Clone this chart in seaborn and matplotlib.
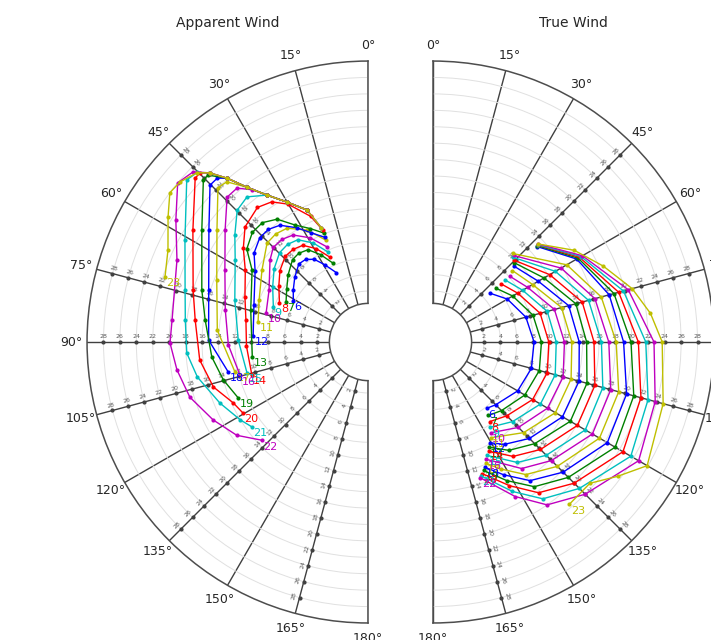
import numpy as np
import pandas as pd
import matplotlib
matplotlib.use("Agg")
import matplotlib.pyplot as plt
import seaborn as sns

# True wind polar: (true wind angle in degrees, boat speed) for each wind speed
tw06 = ([49.6, 60, 75, 90, 105, 120, 135, 140.8], [4.95, 6.25, 7.5, 8.1, 8.2, 7.7, 6.6, 6.2])
tw07 = ([49.7, 60, 75, 90, 105, 120, 135, 143.0], [5.9, 7.0, 8.4, 9.0, 9.2, 8.7, 7.6, 7.0])
tw08 = ([49.5, 60, 75, 90, 105, 120, 135, 144.5], [6.7, 7.7, 9.3, 9.9, 10.2, 9.8, 8.5, 7.7])
tw09 = ([49.5, 60, 75, 90, 105, 120, 135, 146.0], [7.4, 8.4, 10.2, 10.8, 11.2, 10.9, 9.5, 8.3])
tw10 = ([49.3, 60, 75, 90, 105, 120, 135, 147.5], [8.1, 9.1, 11.1, 11.8, 12.2, 11.9, 10.5, 8.9])
tw11 = ([48.0, 60, 75, 90, 105, 120, 135, 149.0], [8.8, 9.8, 12.0, 12.7, 13.2, 13.0, 11.4, 9.4])
tw12 = ([46.7, 60, 75, 90, 105, 120, 135, 145, 150.5], [9.3, 10.6, 12.9, 13.6, 14.2, 14.0, 12.4, 11.0, 9.9])
tw13 = ([45.5, 60, 75, 90, 105, 120, 135, 145, 152.0], [9.6, 11.4, 13.8, 14.5, 15.2, 15.1, 13.3, 11.9, 10.3])
tw14 = ([44.5, 60, 75, 90, 105, 120, 135, 145, 153.0], [9.8, 12.2, 14.6, 15.4, 16.2, 16.1, 14.3, 12.8, 10.7])
tw15 = ([43.5, 60, 75, 90, 105, 120, 135, 145, 154.5], [10.0, 13.0, 15.4, 16.3, 17.2, 17.2, 15.3, 13.7, 11.1])
tw16 = ([43.0, 60, 75, 90, 105, 120, 135, 145, 155.5], [10.2, 13.8, 16.2, 17.2, 18.2, 18.2, 16.2, 14.6, 11.5])
tw17 = ([42.0, 60, 75, 90, 105, 120, 135, 145, 152, 156.5], [10.3, 14.6, 17.0, 18.1, 19.2, 19.2, 17.2, 15.5, 13.3, 11.9])
tw18 = ([47.5, 60, 75, 90, 105, 120, 135, 145, 152, 157.5], [13.0, 16.0, 18.0, 19.0, 20.2, 20.3, 18.2, 16.4, 14.1, 12.3])
tw19 = ([47.3, 60, 75, 90, 105, 120, 135, 145, 152, 158.5], [13.1, 16.2, 18.6, 19.9, 21.1, 21.4, 19.1, 17.3, 14.9, 12.6])
tw20 = ([47.2, 60, 75, 90, 105, 120, 135, 145, 152, 159.5], [13.2, 16.4, 19.2, 20.8, 22.0, 22.5, 20.1, 18.2, 15.6, 12.9])
tw21 = ([47.0, 60, 75, 90, 105, 120, 135, 145, 152, 160.3], [13.2, 16.6, 19.8, 21.7, 22.9, 23.6, 21.0, 19.1, 16.4, 13.1])
tw22 = ([47.0, 60, 75, 90, 105, 120, 135, 145, 152, 160.8], [13.3, 16.8, 20.4, 22.7, 23.8, 24.7, 22.0, 20.0, 17.1, 13.3])
tw23 = ([47.0, 57, 66, 75, 82.5, 90, 105, 120, 126, 132, 140], [13.3, 16.3, 18.5, 20.9, 22.5, 23.7, 24.8, 25.9, 23.6, 21.5, 21.6])

# Apparent wind polar: (apparent wind angle in degrees, boat speed)
aw06 = ([24.6, 29.3, 33.0, 37.0, 41.5, 48.5, 55.0, 61.0], [5.1, 6.6, 7.8, 8.4, 8.5, 7.7, 6.9, 6.2])
aw07 = ([23.9, 28.5, 33.0, 38.0, 42.5, 50.0, 57.0, 64.0], [6.3, 7.9, 9.2, 9.5, 9.4, 8.5, 7.6, 6.9])
aw08 = ([24.1, 29.0, 34.0, 39.0, 44.0, 51.0, 58.0, 66.0], [7.1, 8.8, 10.0, 10.3, 10.3, 9.6, 8.6, 7.6])
aw09 = ([24.0, 29.0, 34.5, 39.5, 44.7, 52.0, 60.0, 69.5], [7.8, 9.6, 10.9, 11.2, 11.1, 10.3, 9.2, 8.1])
aw10 = ([23.3, 29.0, 35.0, 40.0, 45.0, 50.1, 62.3, 74.0], [8.4, 10.3, 11.7, 12.1, 12.1, 11.35, 9.4, 8.7])
aw11 = ([22.4, 28.5, 35.4, 40.5, 45.6, 55.8, 69.0, 79.7], [9.2, 11.3, 12.8, 13.1, 13.0, 11.4, 10.0, 9.4])
aw12 = ([22.5, 27.5, 32.0, 37.0, 41.5, 46.0, 52.0, 58.0, 72.0, 87.0], [9.6, 10.8, 12.2, 13.6, 14.1, 14.1, 13.4, 12.0, 10.4, 9.8])
aw13 = ([22.0, 27.0, 32.0, 36.5, 41.5, 46.5, 52.5, 58.2, 74.7, 97.4], [10.1, 11.3, 12.6, 14.4, 15.2, 15.2, 14.4, 12.4, 10.6, 10.0])
aw14 = ([22.0, 24.5, 30.1, 34.5, 39.4, 46.9, 53.0, 59.7, 69.9, 79.8, 92.0, 105.9],
        [10.5, 12.6, 15.2, 16.5, 17.0, 16.3, 14.8, 13.1, 11.75, 10.9, 10.6, 10.5])
aw15 = ([22.2, 24.8, 30.1, 34.5, 39.8, 44.8, 51.2, 58.3, 72.5, 89.1, 104.4],
        [10.8, 13.5, 15.5, 17.5, 18.8, 18.4, 16.6, 14.8, 12.8, 11.6, 11.0])
aw16 = ([22.2, 24.8, 30.1, 34.5, 37.3, 40.4, 44.2, 51.9, 63.3, 77.4, 91.2, 104.5],
        [10.8, 13.5, 15.5, 17.5, 19.1, 20.4, 20.4, 17.9, 15.3, 13.6, 12.8, 11.9])
aw17 = ([22.2, 24.8, 30.1, 34.5, 38.0, 41.4, 44.2, 53.4, 67.7, 85.5, 102.7],
        [10.8, 13.5, 15.5, 17.5, 19.7, 21.8, 22.0, 18.7, 15.7, 14.2, 12.4])
aw18 = ([24.8, 30.1, 34.5, 38.0, 40.7, 42.6, 45.2, 54.8, 71.9, 89.3, 102.1],
        [13.5, 15.5, 17.5, 19.7, 22.1, 22.9, 22.9, 19.5, 16.2, 15.2, 13.2])
aw19 = ([24.8, 30.1, 34.5, 38.0, 40.7, 43.8, 45.5, 56.0, 72.6, 82.3, 95.5, 104.7, 113.3],
        [13.5, 15.5, 17.5, 19.7, 22.1, 23.95, 23.9, 20.2, 17.0, 15.8, 14.9, 14.0, 13.0])
aw20 = ([24.8, 30.1, 34.5, 38.0, 40.7, 43.1, 44.8, 46.5, 57.4, 73.5, 82.8, 96.1, 106.2, 114.3, 119.6],
        [13.5, 15.5, 17.5, 19.7, 22.1, 24.0, 24.8, 24.8, 21.1, 18.0, 17.0, 16.4, 15.4, 13.8, 13.3])
aw21 = ([24.8, 30.1, 34.5, 38.0, 40.7, 43.1, 45.2, 48.2, 60.9, 74.1, 83.1, 93.5, 101.6, 112.4, 121.4, 126.2],
        [13.5, 15.5, 17.5, 19.7, 22.1, 24.0, 25.1, 25.4, 21.3, 18.95, 18.2, 17.9, 17.0, 15.3, 14.0, 13.3])
aw22 = ([24.8, 30.1, 34.5, 38.0, 40.7, 43.1, 45.8, 50.1, 57.6, 66.8, 83.6, 90.3, 98.3, 107.2, 116.7, 125.4, 132.8],
        [13.5, 15.5, 17.5, 19.7, 22.1, 24.0, 25.5, 26.0, 23.5, 21.1, 19.8, 19.9, 19.3, 18.5, 16.9, 15.4, 13.4])
aw23 = ([24.8, 30.1, 34.5, 38.0, 40.7, 43.1, 45.3, 49.6, 53.0, 58.0, 65.3, 72.2],
        [13.5, 15.5, 17.5, 19.7, 22.1, 24.0, 25.1, 25.85, 26.0, 24.5, 22.6, 21.75])

wind_speeds = list(range(6, 24))
true_curves = [tw06, tw07, tw08, tw09, tw10, tw11, tw12, tw13, tw14,
               tw15, tw16, tw17, tw18, tw19, tw20, tw21, tw22, tw23]
apparent_curves = [aw06, aw07, aw08, aw09, aw10, aw11, aw12, aw13, aw14,
                   aw15, aw16, aw17, aw18, aw19, aw20, aw21, aw22, aw23]

angle_ticks = list(range(0, 181, 15))
ring_values = list(range(2, 30, 2))
scale_spokes = [45, 75, 90, 105, 135, 165]

# old matplotlib cycle b g r c m y
palette = ["#0000ff", "#008000", "#ff0000", "#00bfbf", "#bf00bf", "#bfbf00"]

sns.set_style("white")
plt.rcParams["font.family"] = ["DejaVu Sans"]

fig = plt.figure(figsize=(7.11, 6.4), dpi=100)
ax_app = fig.add_axes([-0.0752, 0.0266, 0.7904, 0.878], projection="polar")
ax_true = fig.add_axes([0.4114, 0.0266, 0.7904, 0.878], projection="polar")


def draw_panel(ax, curves, direction, title):
    # polar curves, one per wind speed
    for i, (v, (ang, spd)) in enumerate(zip(wind_speeds, curves)):
        color = palette[i % len(palette)]
        df = pd.DataFrame({"angle": np.radians(ang), "speed": spd})
        sns.lineplot(data=df, x="angle", y="speed", ax=ax, sort=False, estimator=None,
                     color=color, lw=1.0, marker="o", markersize=3, markeredgewidth=0,
                     legend=False, zorder=4)
        ax.annotate(str(v), (np.radians(ang[-1]), spd[-1]), xytext=(1, -1),
                    textcoords="offset points", ha="left", va="top",
                    color=color, fontsize=8, zorder=5)
    ax.set_xlabel("")
    ax.set_ylabel("")

    ax.set_theta_zero_location("N")
    ax.set_theta_direction(direction)
    ax.set_thetamin(0)
    ax.set_thetamax(180)
    ax.set_rlim(0.5, 30)
    ax.set_rorigin(-4.2)
    ax.set_thetagrids(angle_ticks, [f"{a}°" for a in angle_ticks], fontsize=9)
    ax.tick_params(axis="x", pad=1)
    ax.set_rgrids(ring_values, labels=[""] * len(ring_values))
    ax.xaxis.grid(True, color="0.25", lw=1.0)
    ax.yaxis.grid(True, color="0.88", lw=0.7)
    for sp in ax.spines.values():
        sp.set_color("0.3")
        sp.set_linewidth(1.1)

    # speed scale along some of the spokes
    for a in scale_spokes:
        th = np.radians(a)
        ax.plot([th] * len(ring_values), ring_values, ls="none", marker="o",
                ms=2, color="0.25", zorder=3)
        if direction == 1:
            rot = a - 90
            off = np.radians(a)
        else:
            rot = 90 - a
            off = np.radians(180 - a)
        ox, oy = 4 * np.cos(off), 4 * np.sin(off)
        for r in ring_values:
            ax.annotate(str(r), (th, r), xytext=(ox, oy), textcoords="offset points",
                        ha="center", va="center", rotation=rot, fontsize=4.5,
                        color="0.35", zorder=3)

    ax.set_title(title, fontsize=10, y=1.045)


draw_panel(ax_app, apparent_curves, 1, "Apparent Wind")
draw_panel(ax_true, true_curves, -1, "True Wind")

fig.savefig("out.png", dpi=100, facecolor="white")
